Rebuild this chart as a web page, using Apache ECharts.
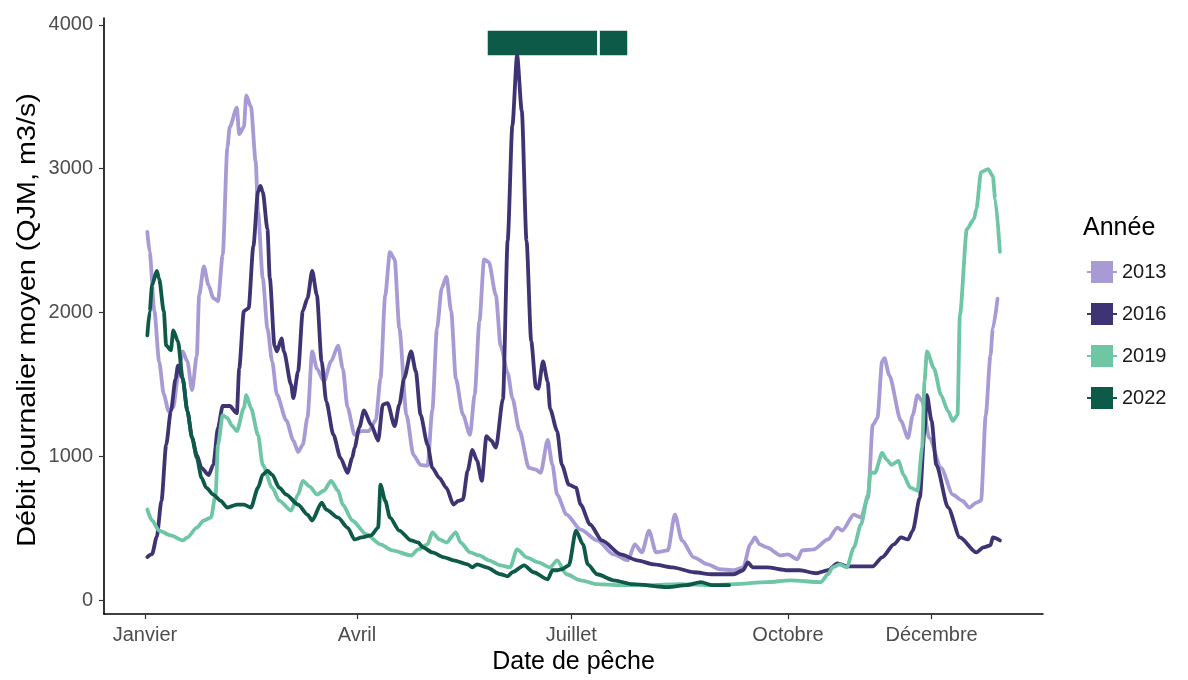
<!DOCTYPE html>
<html>
<head>
<meta charset="utf-8">
<script src="https://cdn.jsdelivr.net/npm/echarts@6/dist/echarts.min.js"></script>
<style>html,body{margin:0;padding:0;background:#fff;}#c{width:1188px;height:680px;}</style>
</head>
<body>
<div id="c"></div>
<script>
// ---- data (day of year, 0 = 1 janvier ; débit m3/s) ----
const months = ['Janvier', 'Avril', 'Juillet', 'Octobre', 'Décembre'];
const monthDays = [0, 90, 181, 273, 334];
const yTicks = [0, 1000, 2000, 3000, 4000];
const years = ['2013', '2016', '2019', '2022'];

const q2013 = [[1,2560],[2,2420],[4,2010],[6,1660],[8,1430],[10,1315],[12,1340],[14,1550],[16,1730],[18,1660],[20,1460],[22,1700],[23,2120],[25,2320],[27,2190],[29,2100],[31,2080],[33,2400],[35,3150],[36,3290],[39,3425],[40,3240],[42,3290],[43,3510],[45,3430],[47,3050],[48,2700],[50,2240],[52,1890],[54,1660],[56,1430],[60,1250],[63,1110],[65,1030],[67,1080],[69,1270],[71,1730],[73,1610],[76,1520],[79,1660],[82,1770],[84,1610],[86,1340],[89,1150],[92,1175],[95,1175],[98,1250],[100,1540],[102,2120],[104,2420],[106,2370],[108,1890],[111,1290],[114,1010],[117,940],[120,935],[122,1320],[124,1890],[126,2170],[128,2250],[130,2010],[132,1540],[135,1290],[138,1150],[140,1430],[142,1940],[144,2370],[146,2350],[149,2120],[151,1770],[154,1580],[156,1405],[159,1180],[163,920],[166,907],[168,886],[171,1114],[173,941],[175,734],[179,595],[185,491],[192,415],[199,318],[205,277],[208,388],[211,332],[214,484],[217,332],[222,346],[225,595],[228,415],[233,298],[239,249],[244,215],[250,208],[254,228],[257,388],[259,436],[261,388],[264,367],[270,311],[273,318],[277,284],[279,346],[284,353],[290,422],[294,505],[296,484],[301,595],[304,574],[307,713],[309,1218],[311,1266],[313,1661],[314,1682],[316,1564],[321,1246],[324,1128],[326,1287],[328,1426],[330,1384],[333,1128],[338,920],[343,734],[347,692],[350,644],[353,678],[355,692],[357,1287],[359,1702],[360,1889],[362,2097]];

const q2016 = [[1,300],[3,320],[5,440],[7,690],[9,1080],[11,1315],[13,1540],[14,1630],[16,1540],[18,1315],[20,1130],[22,1010],[24,920],[27,870],[29,940],[31,1200],[33,1350],[36,1350],[39,1300],[40,1610],[42,2010],[44,2030],[46,2460],[48,2840],[49,2880],[50,2840],[52,2580],[53,2240],[55,1770],[56,1730],[58,1820],[59,1730],[62,1500],[63,1405],[65,1590],[67,2010],[69,2100],[71,2290],[73,2120],[75,1660],[77,1380],[80,1150],[83,990],[86,886],[88,990],[89,1060],[91,1200],[93,1320],[96,1220],[99,1110],[101,1360],[103,1370],[106,1210],[108,1360],[110,1540],[113,1730],[115,1590],[117,1290],[120,1080],[122,920],[125,850],[128,780],[131,664],[133,690],[135,700],[137,900],[139,1045],[141,970],[143,830],[145,1140],[147,1110],[149,1060],[152,1400],[154,2500],[156,3300],[158,3790],[160,3400],[162,2500],[164,1800],[166,1480],[167,1470],[169,1660],[171,1520],[172,1330],[175,1176],[177,941],[180,803],[183,782],[185,664],[189,526],[194,415],[202,318],[209,277],[216,249],[224,228],[233,194],[241,180],[250,180],[254,208],[256,263],[258,228],[264,228],[273,208],[278,208],[285,187],[290,208],[294,256],[298,235],[309,235],[313,298],[318,388],[321,436],[324,422],[326,484],[329,713],[331,1176],[332,1426],[334,1246],[336,941],[341,644],[346,436],[353,332],[356,367],[359,381],[360,436],[363,415]];

const q2019 = [[1,630],[3,554],[6,484],[11,450],[16,415],[18,436],[22,505],[25,554],[28,574],[30,734],[31,1080],[33,1287],[35,1266],[37,1211],[39,1176],[42,1336],[43,1426],[45,1336],[48,1149],[50,941],[54,782],[57,692],[62,623],[65,734],[67,830],[70,790],[73,734],[76,761],[79,830],[82,761],[84,664],[88,554],[94,457],[100,388],[105,346],[113,311],[116,353],[120,388],[122,471],[125,422],[128,401],[132,471],[134,401],[138,332],[142,311],[146,277],[151,242],[155,228],[158,353],[162,298],[167,263],[172,228],[175,277],[179,180],[185,138],[192,111],[202,104],[213,104],[227,111],[241,104],[250,111],[264,125],[274,138],[287,125],[290,180],[292,228],[295,249],[298,228],[301,367],[304,526],[307,734],[308,886],[310,886],[313,1024],[315,976],[317,941],[320,969],[322,872],[325,782],[328,761],[330,1059],[331,1522],[332,1730],[335,1612],[338,1426],[341,1315],[343,1246],[345,1287],[346,1979],[349,2581],[352,2650],[353,2720],[355,2976],[358,2997],[360,2948],[361,2789],[363,2422]];

const q2022 = [[1,1841],[2,2007],[3,2190],[5,2290],[6,2235],[8,2007],[9,1772],[11,1737],[12,1875],[14,1800],[16,1543],[18,1315],[20,1128],[22,990],[24,851],[26,782],[29,734],[32,692],[35,644],[39,664],[42,664],[45,644],[48,782],[50,872],[52,900],[54,872],[57,782],[60,734],[65,664],[69,595],[71,554],[75,678],[77,630],[82,574],[86,505],[89,422],[92,436],[96,450],[99,505],[100,803],[102,692],[104,574],[108,484],[113,415],[116,401],[118,367],[122,332],[127,298],[131,277],[137,249],[139,228],[141,249],[145,228],[151,180],[154,166],[156,194],[161,242],[165,194],[171,145],[173,208],[175,208],[177,215],[180,242],[183,484],[186,388],[188,249],[192,180],[199,138],[207,111],[222,90],[230,104],[236,125],[241,104],[248,104]];

// périodes de pêche 2022 (jours) et bande verticale du repère
const peche2022 = [[145, 192.6], [192.6, 205.3]];
const pecheBand = [3780, 3968];

const series = [q2013, q2016, q2019, q2022];
const palette = ['#a89bd5', '#3e3474', '#6ec6a5', '#0e5a48'];
const FONT = "'Liberation Sans', Arial, sans-serif";

const chart = echarts.init(document.getElementById('c'), null, {renderer: 'canvas'});

const seriesOpts = series.map((d, i) => ({
  name: years[i],
  type: 'line',
  data: d,
  showSymbol: false,
  symbol: 'none',
  smooth: 0.25,
  smoothMonotone: 'x',
  lineStyle: {width: 3.8, color: palette[i], cap: 'round', join: 'round'},
  itemStyle: {color: palette[i]},
  emphasis: {disabled: true},
  z: 2 + i
}));

seriesOpts[3].markArea = {
  silent: true,
  itemStyle: {color: palette[3], borderColor: '#ffffff', borderWidth: 2.5, opacity: 1},
  label: {show: false},
  data: peche2022.map(p => [{xAxis: p[0], yAxis: pecheBand[0]}, {xAxis: p[1], yAxis: pecheBand[1]}])
};

const option = {
  animation: false,
  backgroundColor: '#ffffff',
  textStyle: {fontFamily: FONT},
  grid: {left: 104, right: 145, top: 18, bottom: 63, containLabel: false},
  title: {
    text: 'Année', left: 1083, top: 216, padding: 0,
    textStyle: {fontSize: 25, fontWeight: 'normal', color: '#000', fontFamily: FONT}
  },
  legend: {
    data: years,
    orient: 'vertical',
    left: 1087, top: 261, padding: 0,
    itemWidth: 30, itemHeight: 22, itemGap: 20,
    icon: 'path://M0,10h4V0h22v10h4v2h-4v10H4V12H0z',
    textStyle: {fontSize: 20, color: '#1a1a1a', fontFamily: FONT},
    selectedMode: false
  },
  xAxis: {
    type: 'value',
    min: -17.4, max: 381.3,
    name: 'Date de pêche',
    nameLocation: 'middle',
    nameGap: 32,
    nameTextStyle: {fontSize: 25, color: '#000', fontFamily: FONT},
    axisLine: {show: true, onZero: false, lineStyle: {color: '#000', width: 1.6}},
    axisTick: {show: true, length: 5, customValues: monthDays, lineStyle: {color: '#333', width: 1.2}},
    axisLabel: {
      customValues: monthDays, margin: 11, fontSize: 20, color: '#4d4d4d', fontFamily: FONT,
      formatter: v => { const k = monthDays.indexOf(v); return k >= 0 ? months[k] : ''; }
    },
    splitLine: {show: false}
  },
  yAxis: {
    type: 'value',
    min: -97, max: 4048,
    axisLine: {show: true, onZero: false, lineStyle: {color: '#000', width: 1.6}},
    axisTick: {show: true, length: 5, customValues: yTicks, lineStyle: {color: '#333', width: 1.2}},
    axisLabel: {
      customValues: yTicks, margin: 11, fontSize: 20, color: '#4d4d4d', fontFamily: FONT,
      formatter: v => String(v)
    },
    splitLine: {show: false}
  },
  graphic: [{
    type: 'text',
    x: 28, y: 320,
    rotation: Math.PI / 2,
    scaleX: 1.15,
    style: {
      text: 'Débit journalier moyen (QJM, m3/s)',
      fontSize: 25, fontFamily: FONT, fill: '#000',
      align: 'center', verticalAlign: 'middle'
    }
  }],
  series: seriesOpts
};

chart.setOption(option);
</script>
</body>
</html>
